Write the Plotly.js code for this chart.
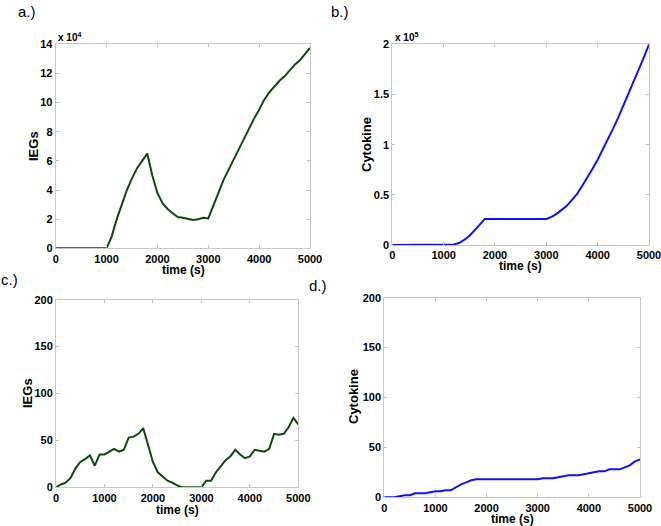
<!DOCTYPE html>
<html><head><meta charset="utf-8">
<script src="https://cdn.plot.ly/plotly-3.0.1.min.js"></script>
<style>html,body{margin:0;padding:0;background:#fff}#g{width:661px;height:526px}</style>
</head><body><div id="g"></div>
<script>
// time points (s)
const timeA = [0,100,200,300,400,500,600,700,800,900,1000,1100,1200,1300,1400,1500,1600,1700,1800,1900,2000,2100,2200,2300,2400,2500,2600,2700,2800,2900,3000,3100,3200,3300,3400,3500,3600,3700,3800,3900,4000,4100,4200,4300,4400,4500,4600,4700,4800,4900,5000];
// panel a: IEGs (x 10^4)
const iegsA = [0,0,0,0,0,0,0,0,0,0,0,0.8,2.0,3.0,4.0,4.8,5.5,6.0,6.5,5.0,3.8,3.1,2.7,2.4,2.15,2.1,2.05,1.95,2.0,2.1,2.05,3.0,3.8,4.7,5.4,6.2,6.9,7.6,8.3,8.9,9.5,10.2,10.7,11.1,11.5,11.8,12.2,12.6,12.9,13.3,13.75];
// panel b: Cytokine (x 10^5)
const cytoB = [0,0,0,0,0,0,0,0,0,0,0,0,0.005,0.02,0.05,0.09,0.14,0.2,0.26,0.26,0.26,0.26,0.26,0.26,0.26,0.26,0.26,0.26,0.26,0.26,0.26,0.28,0.31,0.35,0.39,0.45,0.51,0.59,0.67,0.76,0.85,0.95,1.05,1.16,1.27,1.39,1.5,1.62,1.75,1.87,2.0];
// panel c: IEGs (counts)
const iegsC = [0,3,5,10,20,27,30,34,23,35,35,38,41,38,40,53,54,57,63,45,27,16,11,7,5,2,0,0,0,0,0,7,7,16,23,29,33,40,35,31,33,40,39,38,41,57,56,57,64,74,67];
// panel d: Cytokine (counts)
const cytoD = [0,0,0,1,2,2,4,4,4,5,6,6,7,7,10,13,15,17,18,18,18,18,18,18,18,18,18,18,18,18,18,19,19,19,20,21,22,22,22,23,24,25,26,26,28,28,28,30,32,36,38];
const xTicks = [0,1000,2000,3000,4000,5000];

const green = '#0b4a0b', blue = '#1010ff';
const tf = {family:'Liberation Sans, Arial, sans-serif', size:11, color:'#000', weight:'bold'};
const tfont = {family:'Liberation Sans, Arial, sans-serif', size:12, color:'#000', weight:'bold'};
const yfont = {family:'Liberation Sans, Arial, sans-serif', size:13, color:'#000', weight:'bold'};
function xax(dom, anchor){return {domain:dom, anchor:anchor, range:[0,5000], tickvals:xTicks, ticks:'inside', ticklen:3, tickcolor:'#c0c0c0', showline:true, linecolor:'#c8c8c8', linewidth:1, mirror:'ticks', showgrid:false, zeroline:false, tickfont:tf, ticklabeloverflow:'allow'};}
function yax(dom, anchor, range, dtick){return {domain:dom, anchor:anchor, range:range, dtick:dtick, ticks:'inside', ticklen:3, tickcolor:'#c0c0c0', showline:true, linecolor:'#c8c8c8', linewidth:1, mirror:'ticks', showgrid:false, zeroline:false, tickfont:tf, ticklabeloverflow:'allow'};}

const traces = [
 {x:timeA, y:iegsA, xaxis:'x', yaxis:'y', mode:'lines', line:{color:green, width:2}},
 {x:timeA, y:cytoB, xaxis:'x2', yaxis:'y2', mode:'lines', line:{color:blue, width:2}},
 {x:timeA, y:iegsC, xaxis:'x3', yaxis:'y3', mode:'lines', line:{color:green, width:2}},
 {x:timeA, y:cytoD, xaxis:'x4', yaxis:'y4', mode:'lines', line:{color:blue, width:2}}
];
const W=661,H=526;
function px(a,b){return [a/W,b/W];}
function py(top,bot){return [1-bot/H,1-top/H];}
const ann = (text,x,y,opts)=>Object.assign({text:text, x:x/W, y:1-y/H, xref:'paper', yref:'paper', showarrow:false, xanchor:'center', yanchor:'middle', font:tfont}, opts||{});
const regular = {family:'Liberation Sans, Arial, sans-serif', size:15, color:'#000'};
const small = {family:'Liberation Sans, Arial, sans-serif', size:10, color:'#000', weight:'bold'};
const layout = {
 width:W, height:H, margin:{l:0,r:0,t:0,b:0}, showlegend:false,
 paper_bgcolor:'#fff', plot_bgcolor:'#fff',
 xaxis:xax(px(55.7,310),'y'), yaxis:yax(py(44.3,248.3),'x',[0,14],2),
 xaxis2:xax(px(392.3,649),'y2'), yaxis2:yax(py(44.3,245),'x2',[0,2],0.5),
 xaxis3:xax(px(56,298.3),'y3'), yaxis3:yax(py(299.7,487.3),'x3',[0,200],50),
 xaxis4:xax(px(384.3,640),'y4'), yaxis4:yax(py(297.7,497.3),'x4',[0,200],50),
 annotations:[
  ann('a.)',27,12,{font:regular}),
  ann('b.)',340,12,{font:regular}),
  ann('c.)',9,279,{font:regular}),
  ann('d.)',318,285,{font:regular}),
  ann('x 10<sup>4</sup>',56,37,{xanchor:'left', font:small}),
  ann('x 10<sup>5</sup>',393,37,{xanchor:'left', font:small}),
  ann('time (s)',183,270),
  ann('time (s)',520,266),
  ann('time (s)',177,510),
  ann('time (s)',512,519),
  ann('IEGs',33,146,{textangle:-90, font:yfont}),
  ann('Cytokine',367,145,{textangle:-90, font:yfont}),
  ann('IEGs',27,393,{textangle:-90, font:yfont}),
  ann('Cytokine',353,397,{textangle:-90, font:yfont})
 ]
};
Plotly.newPlot('g', traces, layout, {staticPlot:true, displayModeBar:false});
</script></body></html>
